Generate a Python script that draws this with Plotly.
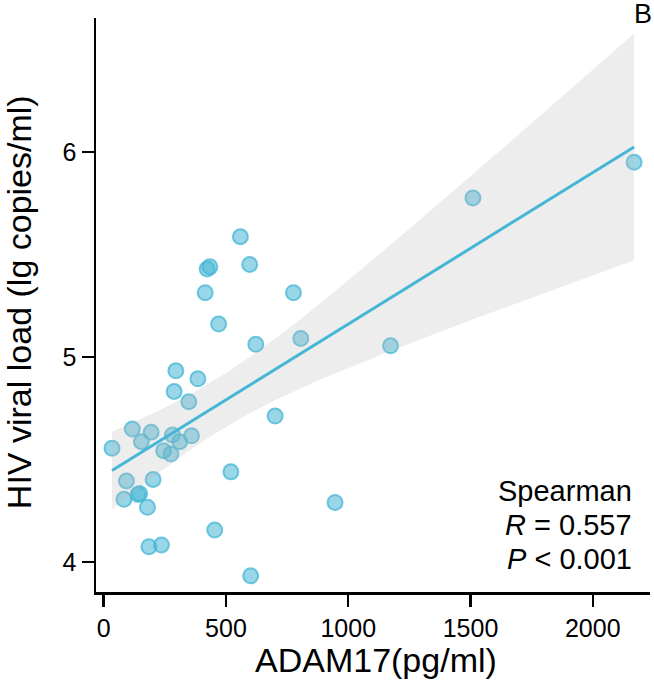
import numpy as np
import plotly.graph_objects as go

# ADAM17 (pg/ml) vs HIV viral load (lg copies/ml)
adam17 = [559, 434, 423, 597, 415, 776, 470, 622, 806, 295, 385, 288, 348, 701,
          117, 194, 154, 34, 281, 311, 359, 245, 275, 520, 93, 202, 147, 140, 83,
          179, 946, 454, 185, 236, 601, 1173, 1510, 2169]
viral_load = [5.587, 5.44, 5.43, 5.452, 5.314, 5.314, 5.161, 5.062, 5.091, 4.933,
              4.894, 4.832, 4.782, 4.712, 4.649, 4.633, 4.587, 4.555, 4.62, 4.587,
              4.616, 4.543, 4.527, 4.44, 4.395, 4.403, 4.335, 4.33, 4.306, 4.267,
              4.291, 4.156, 4.075, 4.083, 3.933, 5.055, 5.776, 5.95]

x_ticks = [0, 500, 1000, 1500, 2000]
y_ticks = [4, 5, 6]
x_title = "ADAM17(pg/ml)"
y_title = "HIV viral load (lg copies/ml)"
stat_lines = ["Spearman", "<i>R</i> = 0.557", "<i>P</i> < 0.001"]
panel_label = "B"

x = np.array(adam17, float)
y = np.array(viral_load, float)
n = len(x)
b1, b0 = np.polyfit(x, y, 1)
resid = y - (b0 + b1 * x)
s = np.sqrt(np.sum(resid ** 2) / (n - 2))
xbar = x.mean()
sxx = np.sum((x - xbar) ** 2)
xs = np.linspace(x.min(), x.max(), 100)
ys = b0 + b1 * xs
tq = 2.03
se = s * np.sqrt(1.0 / n + (xs - xbar) ** 2 / sxx)
lo = ys - tq * se
hi = ys + tq * se

BLUE = "#45B6D6"
FONT = "Liberation Sans, Arial, sans-serif"

fig = go.Figure()
fig.add_trace(go.Scatter(
    x=adam17, y=viral_load, mode="markers",
    marker=dict(size=15, color="rgba(69,182,214,0.55)",
                line=dict(color="rgba(69,182,214,0.75)", width=2)),
    showlegend=False, hoverinfo="skip"))
fig.add_trace(go.Scatter(
    x=np.concatenate([xs, xs[::-1]]), y=np.concatenate([hi, lo[::-1]]),
    mode="lines", fill="toself", fillcolor="rgba(185,185,185,0.26)",
    line=dict(width=0), showlegend=False, hoverinfo="skip"))
fig.add_trace(go.Scatter(
    x=xs, y=ys, mode="lines", line=dict(color=BLUE, width=3),
    showlegend=False, hoverinfo="skip"))

axis_common = dict(showline=True, linewidth=2.5, linecolor="black", ticks="outside",
                   ticklen=12, tickwidth=2.5, tickcolor="black", showgrid=False,
                   zeroline=False, tickfont=dict(family=FONT, size=25, color="black"))
fig.update_xaxes(range=[-31.5, 2234], tickvals=x_ticks, **axis_common)
fig.update_yaxes(range=[3.854, 6.654], tickvals=y_ticks, **axis_common)

ann = []
ann.append(dict(text=x_title, xref="paper", yref="paper", x=(376 - 96) / 554.0,
                y=(592 - 660) / 574.0,
                showarrow=False, font=dict(family=FONT, size=34, color="black"),
                xanchor="center", yanchor="middle"))
ann.append(dict(text=y_title, xref="paper", yref="paper", x=(19 - 96) / 554.0, y=0.505,
                textangle=-90, showarrow=False,
                font=dict(family=FONT, size=34, color="black"),
                xanchor="center", yanchor="middle"))
for i, t in enumerate(stat_lines):
    ann.append(dict(text=t, xref="paper", yref="paper", x=(634 - 96) / 554.0,
                    y=(592 - 491 - 34 * i) / 574.0,
                    showarrow=False, font=dict(family=FONT, size=29, color="black"),
                    xanchor="right", yanchor="middle"))
ann.append(dict(text=panel_label, xref="paper", yref="paper", x=(643 - 96) / 554.0,
                y=(592 - 14) / 574.0, showarrow=False,
                font=dict(family=FONT, size=27, color="black"),
                xanchor="center", yanchor="middle"))

fig.update_layout(width=654, height=692, autosize=False,
                  margin=dict(l=96, r=4, t=18, b=100),
                  paper_bgcolor="white", plot_bgcolor="white",
                  annotations=ann, font=dict(family=FONT))
fig.write_html("out.html", config={"displayModeBar": False, "staticPlot": True})

# remove the browser's default body margin so the figure sits at the page origin
with open("out.html", "r", encoding="utf-8") as f:
    html = f.read()
html = html.replace("<head>", "<head><style>html,body{margin:0;padding:0;overflow:hidden;}</style>", 1)
with open("out.html", "w", encoding="utf-8") as f:
    f.write(html)
